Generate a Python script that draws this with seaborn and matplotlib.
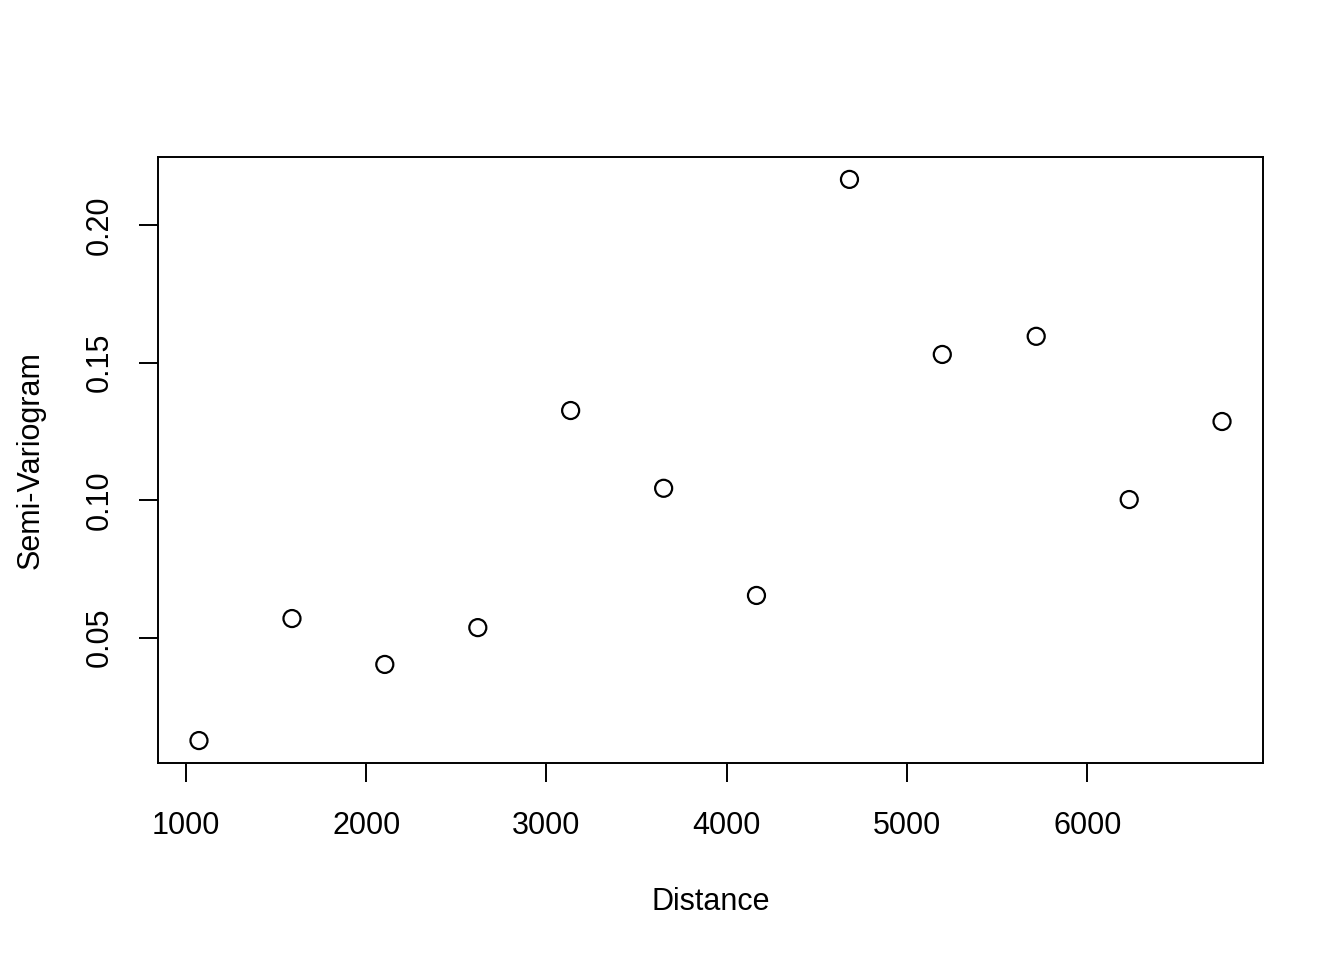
import numpy as np
import pandas as pd
import seaborn as sns
from matplotlib import pyplot as plt

# semi-variogram estimates
distance = [1072, 1588, 2103, 2619, 3134, 3650, 4165, 4681, 5196, 5717, 6233, 6748]
semivar = [0.0125, 0.0569, 0.0402, 0.0536, 0.1326, 0.1043, 0.0653, 0.2167, 0.1530, 0.1596, 0.1002, 0.1286]

x_ticks = [1000, 2000, 3000, 4000, 5000, 6000]
y_ticks = [0.05, 0.10, 0.15, 0.20]

df = pd.DataFrame({"Distance": distance, "Semi-Variogram": semivar})

sns.set_theme(style="ticks")
plt.rcParams['font.family'] = ['Liberation Sans', 'DejaVu Sans']

fig = plt.figure(figsize=(13.44, 9.6), dpi=100)
ax = fig.add_axes([0.1176, 0.2052, 0.8221, 0.6313])

sns.scatterplot(data=df, x="Distance", y="Semi-Variogram", ax=ax,
                marker='o', s=150, facecolor='none', edgecolor='black',
                linewidth=1.6)

# R-style 4% padding
xr = max(distance) - min(distance)
yr = max(semivar) - min(semivar)
ax.set_xlim(min(distance) - 0.04 * xr, max(distance) + 0.04 * xr)
ax.set_ylim(min(semivar) - 0.04 * yr, max(semivar) + 0.04 * yr)

ax.set_xticks(x_ticks)
ax.set_xticklabels([str(t) for t in x_ticks])
ax.set_yticks(y_ticks)
ax.set_yticklabels([f"{t:.2f}" for t in y_ticks], rotation=90, va='center')

for sp in ax.spines.values():
    sp.set_visible(True)
    sp.set_color('black')
    sp.set_linewidth(1.4)

ax.tick_params(axis='both', direction='out', length=13.5, width=1.4,
               color='black', labelsize=22, labelcolor='black',
               bottom=True, left=True, top=False, right=False)
ax.tick_params(axis='x', pad=21)
ax.tick_params(axis='y', pad=18)

ax.set_xlabel("Distance", fontsize=22, labelpad=33, color='black')
ax.set_ylabel("Semi-Variogram", fontsize=22, labelpad=28, color='black')

plt.savefig("out.png", dpi=100)
